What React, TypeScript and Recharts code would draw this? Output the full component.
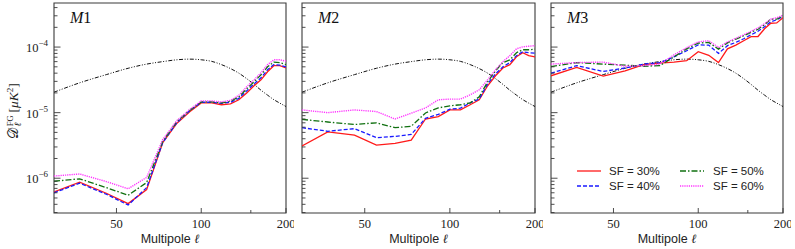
import React from 'react';
import { LineChart, Line, XAxis, YAxis, ReferenceArea } from 'recharts';

// multipole bin centres
const ells = [30, 37, 46, 55, 64, 73, 82, 91, 100, 109, 118, 127, 136, 145, 154, 163, 172, 181, 190, 200];

// theory curve (black dash-dot), same in every panel
const theory = [2.05e-5, 2.85e-5, 3.8e-5, 4.75e-5, 5.5e-5, 6.0e-5, 6.4e-5, 6.55e-5, 6.4e-5, 6.05e-5, 5.4e-5, 4.7e-5, 4.0e-5, 3.3e-5, 2.7e-5, 2.2e-5, 1.85e-5, 1.58e-5, 1.4e-5, 1.24e-5];

// M1
const m1Sf30 = [6.2e-7, 8.7e-7, 5.9e-7, 4.1e-7, 6.7e-7, 3.5e-6, 6.9e-6, 1.03e-5, 1.41e-5, 1.41e-5, 1.32e-5, 1.36e-5, 1.57e-5, 2.0e-5, 2.57e-5, 3.17e-5, 4.2e-5, 5.2e-5, 5.2e-5, 4.8e-5];
const m1Sf40 = [6.0e-7, 8.4e-7, 5.7e-7, 3.9e-7, 7.2e-7, 3.5e-6, 7.1e-6, 1.07e-5, 1.44e-5, 1.44e-5, 1.39e-5, 1.44e-5, 1.65e-5, 2.15e-5, 2.75e-5, 3.4e-5, 4.5e-5, 5.4e-5, 5.3e-5, 5.0e-5];
const m1Sf50 = [9.0e-7, 9.8e-7, 7.2e-7, 5.5e-7, 8.6e-7, 3.65e-6, 7.4e-6, 1.08e-5, 1.46e-5, 1.46e-5, 1.41e-5, 1.49e-5, 1.74e-5, 2.31e-5, 2.95e-5, 3.78e-5, 5.0e-5, 5.9e-5, 5.8e-5, 5.4e-5];
const m1Sf60 = [1.08e-6, 1.16e-6, 8.9e-7, 6.9e-7, 1.03e-6, 3.9e-6, 7.6e-6, 1.12e-5, 1.51e-5, 1.51e-5, 1.46e-5, 1.54e-5, 1.84e-5, 2.48e-5, 3.17e-5, 4.05e-5, 5.4e-5, 6.4e-5, 6.4e-5, 6.1e-5];

// M2
const m2Sf30 = [3.1e-6, 5.1e-6, 4.55e-6, 3.2e-6, 3.4e-6, 3.8e-6, 8.0e-6, 8.7e-6, 1.1e-5, 1.1e-5, 1.32e-5, 1.57e-5, 2.57e-5, 3.65e-5, 4.8e-5, 5.4e-5, 7.1e-5, 8.2e-5, 7.4e-5, 7.1e-5];
const m2Sf40 = [5.9e-6, 5.2e-6, 5.7e-6, 4.15e-6, 4.35e-6, 4.65e-6, 8.2e-6, 9.4e-6, 1.13e-5, 1.17e-5, 1.41e-5, 1.62e-5, 2.75e-5, 3.9e-5, 5.0e-5, 5.8e-5, 7.4e-5, 8.5e-5, 8.2e-5, 8.1e-5];
const m2Sf50 = [7.9e-6, 7.2e-6, 6.6e-6, 7.0e-6, 5.9e-6, 6.2e-6, 9.9e-6, 1.18e-5, 1.27e-5, 1.32e-5, 1.41e-5, 1.74e-5, 2.95e-5, 4.35e-5, 5.8e-5, 6.4e-5, 8.2e-5, 9.1e-5, 9.1e-5, 9.3e-5];
const m2Sf60 = [1.1e-5, 1.0e-5, 1.1e-5, 1.04e-5, 8.0e-6, 9.8e-6, 1.18e-5, 1.57e-5, 1.61e-5, 1.61e-5, 1.87e-5, 2.23e-5, 3.17e-5, 4.5e-5, 6.0e-5, 7.4e-5, 9.4e-5, 1.01e-4, 1.03e-4, 1.05e-4];

// M3
const m3Sf30 = [3.65e-5, 4.9e-5, 3.6e-5, 4.35e-5, 5.4e-5, 5.7e-5, 5.9e-5, 6.2e-5, 8.5e-5, 7.5e-5, 5.8e-5, 9.4e-5, 1.07e-4, 1.25e-4, 1.44e-4, 1.45e-4, 1.9e-4, 2.31e-4, 2.33e-4, 2.8e-4];
const m3Sf40 = [4.0e-5, 5.2e-5, 4.25e-5, 4.8e-5, 5.5e-5, 5.8e-5, 7.1e-5, 8.8e-5, 1.08e-4, 1.07e-4, 8.0e-5, 1.05e-4, 1.18e-4, 1.34e-4, 1.54e-4, 1.74e-4, 2.04e-4, 2.43e-4, 2.61e-4, 2.93e-4];
const m3Sf50 = [5.05e-5, 5.8e-5, 5.5e-5, 5.3e-5, 5.1e-5, 5.2e-5, 7.1e-5, 9.4e-5, 1.15e-4, 1.18e-4, 9.3e-5, 1.16e-4, 1.32e-4, 1.49e-4, 1.68e-4, 1.87e-4, 2.19e-4, 2.66e-4, 2.66e-4, 3.0e-4];
const m3Sf60 = [5.5e-5, 5.8e-5, 5.9e-5, 5.1e-5, 5.2e-5, 5.5e-5, 7.6e-5, 9.8e-5, 1.2e-4, 1.25e-4, 9.9e-5, 1.2e-4, 1.36e-4, 1.54e-4, 1.74e-4, 1.97e-4, 2.27e-4, 2.66e-4, 2.8e-4, 3.06e-4];

const panelNames = ['M1', 'M2', 'M3'];
const seriesLabels = ['SF = 30%', 'SF = 40%', 'SF = 50%', 'SF = 60%'];

const xTicks = [50, 100, 150, 200];
const xTickLabels = ['50', '100', '', '200'];
const yMajor = [1e-6, 1e-5, 1e-4];
const yMajorExp = ['6', '5', '4'];
const yMinor = [3e-7, 4e-7, 5e-7, 6e-7, 7e-7, 8e-7, 9e-7, 2e-6, 3e-6, 4e-6, 5e-6, 6e-6, 7e-6, 8e-6, 9e-6, 2e-5, 3e-5, 4e-5, 5e-5, 6e-5, 7e-5, 8e-5, 9e-5, 2e-4, 3e-4, 4e-4];

const X_DOMAIN: [number, number] = [30, 200];
const Y_DOMAIN: [number, number] = [2.95e-7, 4.7e-4];

const SERIES = [
  { key: 'sf30', color: '#ff1a1a', dash: undefined as string | undefined, width: 1.3 },
  { key: 'sf40', color: '#1a1aff', dash: '4 2', width: 1.3 },
  { key: 'sf50', color: '#107010', dash: '6 2 1.5 2', width: 1.3 },
  { key: 'sf60', color: '#ff33ff', dash: '1.2 1', width: 1.4 },
];

const buildData = (a: number[], b: number[], c: number[], d: number[]) =>
  ells.map((l, i) => ({ l, sf30: a[i], sf40: b[i], sf50: c[i], sf60: d[i], th: theory[i] }));

const panels = [
  { name: panelNames[0], left: 54, width: 232, showY: true, data: buildData(m1Sf30, m1Sf40, m1Sf50, m1Sf60) },
  { name: panelNames[1], left: 302, width: 233, showY: false, data: buildData(m2Sf30, m2Sf40, m2Sf50, m2Sf60) },
  { name: panelNames[2], left: 551, width: 232, showY: false, data: buildData(m3Sf30, m3Sf40, m3Sf50, m3Sf60) },
];

const AXIS_COLOR = '#3a3a3a';
const SERIF = '"Liberation Serif", "DejaVu Serif", serif';
const SANS = '"Liberation Sans", "DejaVu Sans", sans-serif';

const makeYTick = (showLabel: boolean) => (props: any) => {
  const { x, y, payload } = props;
  const v = payload.value as number;
  const mi = yMajor.findIndex((m) => Math.abs(m - v) / m < 1e-6);
  const major = mi >= 0;
  const len = major ? 6.5 : 3.5;
  return (
    <g>
      <line x1={x} x2={x + len} y1={y} y2={y} stroke={AXIS_COLOR} strokeWidth={0.9} />
      {major && showLabel && (
        <text x={x - 6} y={y + 5} textAnchor="end" fontFamily={SERIF} fontSize={12.5} fill="#222">
          10
          <tspan dy={-6} fontSize={9}>{'\u2212' + yMajorExp[mi]}</tspan>
        </text>
      )}
    </g>
  );
};

const XTick = (props: any) => {
  const { x, y, payload } = props;
  const v = payload.value as number;
  const idx = xTicks.indexOf(v);
  const label = idx >= 0 ? xTickLabels[idx] : '';
  const len = label ? 5 : 3;
  return (
    <g>
      <line x1={x} x2={x} y1={y} y2={y - len} stroke={AXIS_COLOR} strokeWidth={0.9} />
      {label && (
        <text x={x} y={y + 15} textAnchor="middle" fontFamily={SERIF} fontSize={12.5} fill="#222">
          {label}
        </text>
      )}
    </g>
  );
};

const Panel = ({ p }: { p: (typeof panels)[number] }) => {
  const chartW = 54 + p.width + 8;
  return (
    <div style={{ position: 'absolute', left: p.left - 54, top: 0 }}>
      <LineChart width={chartW} height={249} data={p.data} margin={{ top: 3, right: 8, left: 0, bottom: 0 }}>
        <XAxis
          dataKey="l"
          type="number"
          scale="log"
          domain={X_DOMAIN}
          allowDataOverflow
          ticks={xTicks}
          interval={0}
          tickSize={0}
          tickMargin={0}
          tickLine={false}
          axisLine={false}
          height={36}
          tick={<XTick />}
        />
        <YAxis
          type="number"
          scale="log"
          domain={Y_DOMAIN}
          allowDataOverflow
          ticks={[...yMajor, ...yMinor]}
          interval={0}
          tickSize={0}
          tickMargin={0}
          tickLine={false}
          axisLine={false}
          width={54}
          tick={makeYTick(p.showY)}
        />
        <Line dataKey="th" stroke="#111" strokeWidth={1} strokeDasharray="4 1.6 1 1.6 1 1.6" dot={false} isAnimationActive={false} type="monotone" />
        {SERIES.map((s) => (
          <Line
            key={s.key}
            dataKey={s.key}
            stroke={s.color}
            strokeWidth={s.width}
            strokeDasharray={s.dash}
            dot={false}
            isAnimationActive={false}
            type="linear"
          />
        ))}
        <ReferenceArea
          x1={X_DOMAIN[0]}
          x2={X_DOMAIN[1]}
          y1={Y_DOMAIN[0]}
          y2={Y_DOMAIN[1]}
          fill="none"
          fillOpacity={0}
          stroke={AXIS_COLOR}
          strokeWidth={1.1}
          ifOverflow="visible"
        />
      </LineChart>
    </div>
  );
};

const Overlay = () => {
  const legendCols = [
    { lx: 577, tx: 609 },
    { lx: 680, tx: 713 },
  ];
  const legendRows = [171, 186];
  const legendPos = [
    [0, 0],
    [0, 1],
    [1, 0],
    [1, 1],
  ];
  return (
    <svg width={795} height={249} style={{ position: 'absolute', left: 0, top: 0, pointerEvents: 'none' }}>
      {panels.map((p) => (
        <text key={p.name} x={p.left + 16} y={23} fontFamily={SERIF} fontSize={16} fill="#111">
          <tspan fontStyle="italic">{p.name[0]}</tspan>
          {p.name.slice(1)}
        </text>
      ))}
      {panels.map((p) => (
        <text key={'xl' + p.name} x={p.left + p.width / 2} y={243} textAnchor="middle" fontFamily={SANS} fontSize={12.5} fill="#222">
          Multipole <tspan fontFamily={SERIF} fontStyle="italic">ℓ</tspan>
        </text>
      ))}
      <text transform="translate(18,111) rotate(-90)" textAnchor="middle" fontFamily={SERIF} fontSize={13.5} fill="#222">
        <tspan>𝒟̂</tspan>
        <tspan fontSize={8.5} dx={1.5} dy={-5}>FG</tspan>
        <tspan fontSize={9.5} fontStyle="italic" dx={-11} dy={8}>ℓ</tspan>
        <tspan dy={-3} dx={10}>[</tspan>
        <tspan fontStyle="italic">μK</tspan>
        <tspan fontSize={9} dy={-5}>2</tspan>
        <tspan dy={5}>]</tspan>
      </text>
      {SERIES.map((s, i) => {
        const [c, r] = legendPos[i];
        const col = legendCols[c];
        const y = legendRows[r];
        return (
          <g key={'lg' + s.key}>
            <line x1={col.lx} x2={col.lx + 24} y1={y} y2={y} stroke={s.color} strokeWidth={s.width} strokeDasharray={s.dash} />
            <text x={col.tx} y={y + 4} fontFamily={SANS} fontSize={11.5} fill="#222">
              {seriesLabels[i]}
            </text>
          </g>
        );
      })}
    </svg>
  );
};

export default function App() {
  return (
    <div style={{ position: 'absolute', left: 0, top: 0, width: 795, height: 249, background: '#fff', overflow: 'hidden' }}>
      {panels.map((p) => (
        <Panel key={p.name} p={p} />
      ))}
      <Overlay />
    </div>
  );
}
